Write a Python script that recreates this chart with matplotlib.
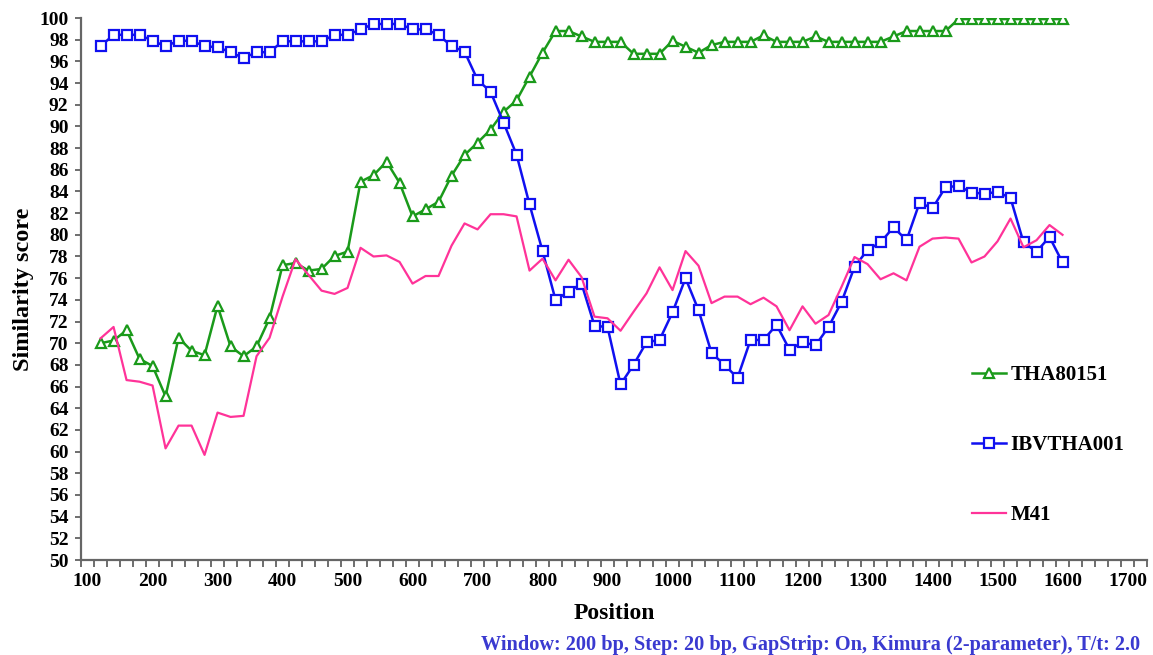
#!/usr/bin/env python3
"""
Similarity plot (SimPlot style) - Window 200 bp, Step 20 bp.
"""

import matplotlib
matplotlib.use('Agg')
import matplotlib.pyplot as plt
from matplotlib.ticker import MultipleLocator, FixedLocator

plt.rcParams.update({
    'font.family': 'Liberation Serif',
    'font.weight': 'bold',
})

# positions of the windows (120 ... 1600, step 20)
positions = list(range(120, 1601, 20))

tha80151 = [
    70.0, 70.25, 71.2, 68.55, 67.9, 65.1, 70.5, 69.3, 68.9, 73.45,
    69.7, 68.8, 69.7, 72.3, 77.2, 77.4, 76.7, 76.85, 78.05, 78.45,
    84.9, 85.5, 86.75, 84.8, 81.7, 82.35, 83.05, 85.45, 87.36, 88.5,
    89.7, 91.35, 92.4, 94.6, 96.8, 98.8, 98.8, 98.3, 97.8, 97.8,
    97.8, 96.7, 96.7, 96.7, 97.9, 97.35, 96.8, 97.5, 97.8, 97.8,
    97.8, 98.4, 97.8, 97.8, 97.8, 98.3, 97.8, 97.8, 97.8, 97.8,
    97.8, 98.3, 98.8, 98.8, 98.8, 98.8, 99.9, 99.9, 99.9, 99.9,
    99.9, 99.9, 99.9, 99.9, 99.9,
]

ibvtha001 = [
    97.4, 98.45, 98.45, 98.45, 97.9, 97.4, 97.9, 97.9, 97.4, 97.3,
    96.85, 96.3, 96.85, 96.85, 97.85, 97.85, 97.85, 97.85, 98.45, 98.45,
    98.95, 99.45, 99.45, 99.45, 98.95, 98.95, 98.45, 97.4, 96.9, 94.3,
    93.2, 90.35, 87.4, 82.8, 78.5, 74.0, 74.75, 75.5, 71.6, 71.5,
    66.2, 68.0, 70.1, 70.3, 72.85, 76.0, 73.05, 69.1, 68.0, 66.8,
    70.3, 70.3, 71.7, 69.4, 70.1, 69.8, 71.5, 73.8, 77.05, 78.6,
    79.3, 80.7, 79.5, 82.95, 82.45, 84.4, 84.5, 83.9, 83.8, 83.95,
    83.4, 79.3, 78.45, 79.8, 77.45,
]

m41 = [
    70.45, 71.5, 66.6, 66.45, 66.1, 60.3, 62.4, 62.4, 59.7, 63.6,
    63.2, 63.3, 68.8, 70.5, 74.3, 77.75, 76.3, 74.85, 74.55, 75.1,
    78.8, 78.0, 78.1, 77.5, 75.5, 76.2, 76.2, 79.0, 81.05, 80.5,
    81.9, 81.9, 81.7, 76.7, 77.8, 75.8, 77.7, 76.1, 72.45, 72.3,
    71.15, 72.9, 74.6, 77.0, 74.9, 78.5, 77.15, 73.7, 74.3, 74.3,
    73.6, 74.2, 73.4, 71.2, 73.4, 71.8, 72.6, 75.2, 77.95, 77.3,
    75.9, 76.45, 75.8, 78.9, 79.65, 79.75, 79.65, 77.45, 78.0, 79.4,
    81.5, 78.85, 79.5, 80.9, 80.0,
]

x_labels = list(range(100, 1701, 100))
y_labels = list(range(50, 101, 2))


def main():
    fig = plt.figure(figsize=(11.53, 6.55), dpi=100)
    ax = fig.add_axes([0.0703, 0.145, 0.9245, 0.8275])

    ax.plot(positions, tha80151, color='#1A9A1A', linewidth=1.8,
            marker='^', markersize=7, markerfacecolor='white',
            markeredgecolor='#1A9A1A', markeredgewidth=1.6, label='THA80151')
    ax.plot(positions, ibvtha001, color='#1010F0', linewidth=1.8,
            marker='s', markersize=6.5, markerfacecolor='white',
            markeredgecolor='#1010F0', markeredgewidth=1.6, label='IBVTHA001')
    ax.plot(positions, m41, color='#FF3399', linewidth=1.6, label='M41')

    ax.set_xlim(90, 1730)
    ax.set_ylim(50, 100)

    # category-style axis: labels centred, tick marks between categories
    ax.xaxis.set_major_locator(FixedLocator(x_labels))
    ax.xaxis.set_minor_locator(MultipleLocator(20, offset=10))
    ax.tick_params(axis='x', which='major', length=0, pad=9, labelsize=14)
    ax.tick_params(axis='x', which='minor', length=5, width=1.2,
                   color='#555555', direction='out')
    ax.yaxis.set_major_locator(FixedLocator(y_labels))
    ax.tick_params(axis='y', which='major', length=4, width=1.2,
                   color='#555555', pad=5, labelsize=14)

    for side in ('top', 'right'):
        ax.spines[side].set_visible(False)
    for side in ('left', 'bottom'):
        ax.spines[side].set_color('#666666')
        ax.spines[side].set_linewidth(1.6)

    ax.set_xlabel('Position', fontsize=17, fontweight='bold', labelpad=10)
    ax.set_ylabel('Similarity score', fontsize=17.5, fontweight='bold', labelpad=4)

    leg = ax.legend(loc='center left', bbox_to_anchor=(0.836, 0.212),
                    frameon=False, fontsize=15, handlelength=1.6,
                    handletextpad=0.25, labelspacing=2.4,
                    borderpad=0, borderaxespad=0)
    for t in leg.get_texts():
        t.set_fontweight('bold')

    fig.text(0.989, 0.0,
             'Window: 200 bp, Step: 20 bp, GapStrip: On, Kimura (2-parameter), T/t: 2.0',
             ha='right', va='bottom', fontsize=14.6, fontweight='bold',
             color='#3A3AD0')

    fig.savefig('out.png', dpi=100)
    plt.close(fig)


if __name__ == '__main__':
    main()
